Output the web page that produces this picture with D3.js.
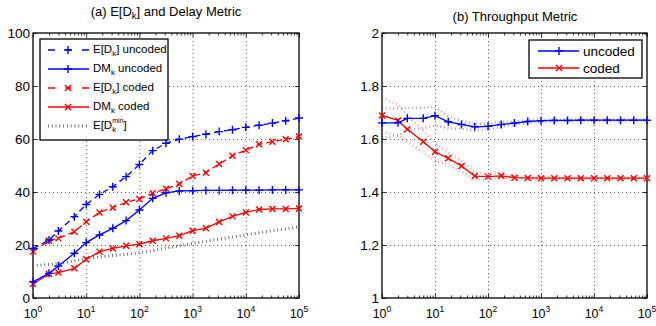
<!DOCTYPE html>
<html lang="en">
<head>
<meta charset="utf-8">
<title>Delay and throughput metrics</title>
<script src="https://d3js.org/d3.v7.min.js"></script>
<style>
  body { margin: 0; background: #fff; }
  text { font-family: "Liberation Sans", Arial, Helvetica, sans-serif; fill: #000; }
</style>
</head>
<body>
<script>
// x positions of the samples (log axis)
var xVals = [1, 2, 3, 6, 10, 17.8, 31.6, 56.2, 100, 178, 316, 562, 1000, 1778, 3162,
             5623, 10000, 17783, 31623, 56234, 100000];
var xMajor = [1, 10, 100, 1000, 10000, 100000];
var xMajorExp = ["0", "1", "2", "3", "4", "5"];

// (a) delay
var edUncoded = [18.7, 21.9, 25.3, 30.7, 35.3, 39.1, 42.0, 45.8, 50.4, 55.6, 58.4, 59.9, 60.9,
                 61.8, 62.8, 63.5, 64.4, 65.2, 66.0, 66.9, 67.9];
var dmUncoded = [6.1, 9.3, 12.1, 16.9, 20.9, 23.8, 26.3, 29.2, 33.2, 37.6, 39.7, 40.4, 40.5,
                 40.6, 40.6, 40.7, 40.7, 40.7, 40.8, 40.8, 40.8];
var edCoded   = [17.5, 21.6, 22.5, 25.0, 28.8, 32.3, 34.1, 36.1, 37.4, 39.5, 41.2, 43.0, 46.0,
                 47.3, 50.6, 53.7, 55.8, 58.0, 59.0, 59.9, 60.9];
var dmCoded   = [5.3, 9.1, 9.6, 11.2, 14.6, 17.5, 18.7, 19.7, 20.3, 21.6, 22.5, 23.5, 25.4,
                 26.3, 28.7, 30.8, 32.3, 33.4, 33.6, 33.6, 33.8];
var edMin     = [12.2, 12.7, 13.1, 14.0, 14.9, 15.5, 16.0, 16.5, 17.1, 17.9, 18.8, 19.7, 20.6,
                 21.4, 22.2, 23.0, 23.8, 24.6, 25.4, 26.1, 26.9];
var delayTicks = [0, 20, 40, 60, 80, 100];

// (b) throughput
var tpUncoded   = [1.661, 1.661, 1.678, 1.678, 1.688, 1.665, 1.655, 1.646, 1.648, 1.655, 1.660,
                   1.666, 1.669, 1.670, 1.670, 1.671, 1.671, 1.671, 1.671, 1.671, 1.671];
var tpUncodedHi = [1.715, 1.715, 1.718, 1.718, 1.722, 1.685, 1.668, 1.657, 1.658, 1.664, 1.666,
                   1.671, 1.673, 1.673, 1.674, 1.674, 1.674, 1.674, 1.674, 1.674, 1.674];
var tpUncodedLo = [1.605, 1.612, 1.635, 1.640, 1.652, 1.640, 1.638, 1.633, 1.636, 1.646, 1.654,
                   1.661, 1.665, 1.666, 1.667, 1.668, 1.668, 1.668, 1.668, 1.668, 1.668];
var tpCoded     = [1.689, 1.670, 1.637, 1.590, 1.552, 1.527, 1.498, 1.460, 1.458, 1.461, 1.454,
                   1.453, 1.452, 1.452, 1.452, 1.452, 1.452, 1.452, 1.452, 1.452, 1.452];
var tpCodedHi   = [1.755, 1.730, 1.690, 1.632, 1.585, 1.550, 1.518, 1.475, 1.468, 1.469, 1.459,
                   1.457, 1.456, 1.455, 1.455, 1.455, 1.455, 1.455, 1.455, 1.455, 1.455];
var tpCodedLo   = [1.625, 1.615, 1.590, 1.548, 1.518, 1.502, 1.478, 1.446, 1.448, 1.453, 1.449,
                   1.449, 1.449, 1.449, 1.449, 1.449, 1.449, 1.449, 1.449, 1.449, 1.449];
var tpTicks = [1, 1.2, 1.4, 1.6, 1.8, 2];

var BLUE = "#0000ff", RED = "#ff0000";
var plusPath = "M-4,0H4M0,-4V4";
var crossPath = "M-3,-3L3,3M-3,3L3,-3";
var DOTS = "0.8,3";

var svg = d3.select("body").append("svg")
  .attr("width", 656)
  .attr("height", 326);

var top0 = 33, bot0 = 298;

// minor log ticks 2..9 per decade
var xMinor = [];
for (var d = 1; d < 100000; d *= 10) {
  for (var m = 2; m < 10; m++) xMinor.push(m * d);
}

function panel(left, right, yDomain, yTicks) {
  var x = d3.scaleLog().domain([1, 100000]).range([left, right]);
  var y = d3.scaleLinear().domain(yDomain).range([bot0, top0]);
  var g = svg.append("g");
  var h = bot0 - top0, w = right - left;

  // dotted grid
  g.append("g")
    .attr("transform", "translate(0," + bot0 + ")")
    .call(d3.axisBottom(x).tickValues(xMajor.slice(1, -1)).tickSize(-h).tickFormat(""))
    .call(function(s) { s.select(".domain").remove(); });
  g.append("g")
    .attr("transform", "translate(" + left + ",0)")
    .call(d3.axisLeft(y).tickValues(yTicks.slice(1, -1)).tickSize(-w).tickFormat(""))
    .call(function(s) { s.select(".domain").remove(); });
  g.selectAll(".tick line")
    .attr("stroke", "#444")
    .attr("stroke-width", 0.9)
    .attr("stroke-dasharray", "1,3");

  // inward ticks on all four sides
  var ticks = g.append("g").attr("class", "ticks");
  ticks.append("g").attr("transform", "translate(0," + bot0 + ")")
    .call(d3.axisBottom(x).tickValues(xMajor).tickSize(-4).tickFormat(""));
  ticks.append("g").attr("transform", "translate(0," + bot0 + ")")
    .call(d3.axisBottom(x).tickValues(xMinor).tickSize(-2.5).tickFormat(""));
  ticks.append("g").attr("transform", "translate(0," + top0 + ")")
    .call(d3.axisTop(x).tickValues(xMajor).tickSize(-4).tickFormat(""));
  ticks.append("g").attr("transform", "translate(0," + top0 + ")")
    .call(d3.axisTop(x).tickValues(xMinor).tickSize(-2.5).tickFormat(""));
  ticks.append("g").attr("transform", "translate(" + left + ",0)")
    .call(d3.axisLeft(y).tickValues(yTicks).tickSize(-4).tickFormat(""));
  ticks.append("g").attr("transform", "translate(" + right + ",0)")
    .call(d3.axisRight(y).tickValues(yTicks).tickSize(-4).tickFormat(""));
  ticks.selectAll(".domain").remove();
  ticks.selectAll("line").attr("stroke", "#000").attr("stroke-width", 0.8);

  // frame
  g.append("rect")
    .attr("x", left).attr("y", top0).attr("width", w).attr("height", h)
    .attr("fill", "none").attr("stroke", "#000").attr("stroke-width", 1.3);

  // x labels 10^n
  var xl = g.selectAll("text.xl").data(xMajor).enter().append("text")
    .attr("class", "xl")
    .attr("x", function(v) { return x(v); })
    .attr("y", 318)
    .attr("text-anchor", "middle")
    .style("font-size", "12.5px");
  xl.append("tspan").text("10");
  xl.append("tspan")
    .attr("dy", -6)
    .style("font-size", "8.5px")
    .text(function(v, i) { return xMajorExp[i]; });

  // y labels
  g.selectAll("text.yl").data(yTicks).enter().append("text")
    .attr("class", "yl")
    .attr("x", left - 3)
    .attr("y", function(v) { return y(v); })
    .attr("dy", "0.36em")
    .attr("text-anchor", "end")
    .style("font-size", "13.5px")
    .text(function(v) { return String(+v.toFixed(1)); });

  return { x: x, y: y, g: g };
}

function series(p, vals, color, opts) {
  var line = d3.line()
    .x(function(v, i) { return p.x(xVals[i]); })
    .y(function(v) { return p.y(v); });
  p.g.append("path")
    .datum(vals)
    .attr("d", line)
    .attr("fill", "none")
    .attr("stroke", color)
    .attr("stroke-width", opts.width || 1.3)
    .attr("stroke-opacity", opts.opacity || 1)
    .attr("stroke-dasharray", opts.dash || null);
  if (opts.marker) {
    p.g.selectAll(null).data(vals).enter().append("path")
      .attr("d", opts.marker)
      .attr("transform", function(v, i) {
        return "translate(" + p.x(xVals[i]) + "," + p.y(v) + ")";
      })
      .attr("fill", "none")
      .attr("stroke", color)
      .attr("stroke-width", 1.4);
  }
}

// ---------- (a) ----------
var pa = panel(33, 299, [0, 100], delayTicks);
series(pa, edMin, "#555", { dash: DOTS, width: 3 });
series(pa, dmCoded, RED, { marker: crossPath });
series(pa, edCoded, RED, { marker: crossPath, dash: "6,4" });
series(pa, dmUncoded, BLUE, { marker: plusPath });
series(pa, edUncoded, BLUE, { marker: plusPath, dash: "6,4" });

var ta = svg.append("text").attr("x", 166).attr("y", 16)
  .attr("text-anchor", "middle").style("font-size", "13px");
ta.append("tspan").text("(a) E[D");
ta.append("tspan").attr("dy", 3).style("font-size", "9.5px").text("k");
ta.append("tspan").attr("dy", -3).text("] and Delay Metric");

// legend (a)
var legA = svg.append("g");
legA.append("rect").attr("x", 40).attr("y", 39).attr("width", 128).attr("height", 101)
  .attr("fill", "#fff").attr("stroke", "#000").attr("stroke-width", 1.3);
var legItems = [
  { c: BLUE, m: plusPath, dash: "7,10.5,6,10.5,7", t: ["E[D", "k", "] uncoded"] },
  { c: BLUE, m: plusPath, dash: null, t: ["DM", "k", " uncoded"] },
  { c: RED, m: crossPath, dash: "7,10.5,6,10.5,7", t: ["E[D", "k", "] coded"] },
  { c: RED, m: crossPath, dash: null, t: ["DM", "k", " coded"] },
  { c: "#555", m: null, dash: DOTS, t: null }
];
legItems.forEach(function(it, i) {
  var yy = 50 + i * 19;
  legA.append("line").attr("x1", 48).attr("x2", 89).attr("y1", yy).attr("y2", yy)
    .attr("stroke", it.c).attr("stroke-width", it.m ? 1.3 : 3)
    .attr("stroke-dasharray", it.dash);
  if (it.m) {
    legA.append("path").attr("d", it.m).attr("transform", "translate(68," + yy + ")")
      .attr("fill", "none").attr("stroke", it.c).attr("stroke-width", 1.4);
  }
  var t = legA.append("text").attr("x", 93).attr("y", yy + 3).style("font-size", "11.5px");
  if (it.t) {
    t.append("tspan").text(it.t[0]);
    t.append("tspan").attr("dy", 3).style("font-size", "8px").text(it.t[1]);
    t.append("tspan").attr("dy", -3).text(it.t[2]);
  } else {
    t.append("tspan").text("E[D");
    t.append("tspan").attr("dy", 3).style("font-size", "8px").text("k");
    t.append("tspan").attr("dx", -4).attr("dy", -9).style("font-size", "7px").text("min");
    t.append("tspan").attr("dy", 6).text("]");
  }
});

// ---------- (b) ----------
var pb = panel(382, 647, [1, 2], tpTicks);
series(pb, tpUncodedHi, BLUE, { dash: DOTS, width: 2.5, opacity: 0.45 });
series(pb, tpUncodedLo, BLUE, { dash: DOTS, width: 2.5, opacity: 0.45 });
series(pb, tpCodedHi, RED, { dash: DOTS, width: 2.5, opacity: 0.45 });
series(pb, tpCodedLo, RED, { dash: DOTS, width: 2.5, opacity: 0.45 });
series(pb, tpCoded, RED, { marker: crossPath });
series(pb, tpUncoded, BLUE, { marker: plusPath });

svg.append("text").attr("x", 515).attr("y", 21)
  .attr("text-anchor", "middle").style("font-size", "13px")
  .text("(b) Throughput Metric");

var legB = svg.append("g");
legB.append("rect").attr("x", 529).attr("y", 40).attr("width", 113).attr("height", 38)
  .attr("fill", "#fff").attr("stroke", "#000").attr("stroke-width", 1.3);
[{ c: BLUE, m: plusPath, t: "uncoded" }, { c: RED, m: crossPath, t: "coded" }]
  .forEach(function(it, i) {
    var yy = 51 + i * 17;
    legB.append("line").attr("x1", 538).attr("x2", 579).attr("y1", yy).attr("y2", yy)
      .attr("stroke", it.c).attr("stroke-width", 1.3);
    legB.append("path").attr("d", it.m).attr("transform", "translate(559," + yy + ")")
      .attr("fill", "none").attr("stroke", it.c).attr("stroke-width", 1.4);
    legB.append("text").attr("x", 583).attr("y", yy + 4.5)
      .style("font-size", "13.5px").text(it.t);
  });
</script>
</body>
</html>
